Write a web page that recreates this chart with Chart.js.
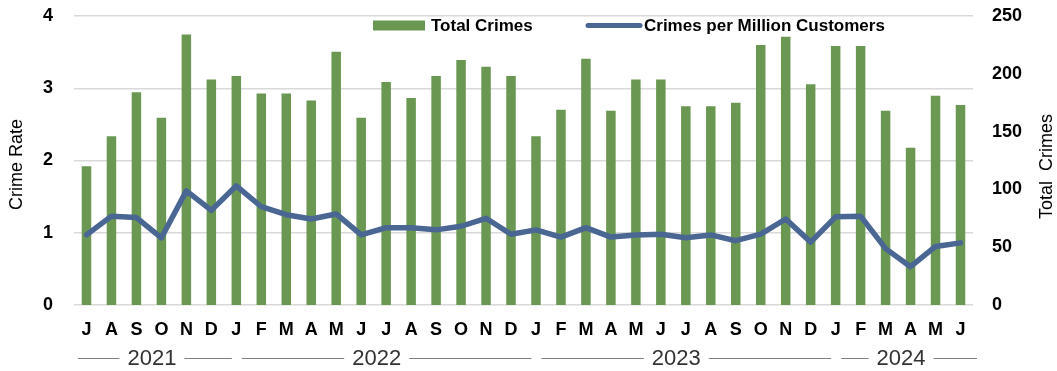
<!DOCTYPE html>
<html>
<head>
<meta charset="utf-8">
<title>Crimes per Million Customers</title>
<script src="https://cdn.jsdelivr.net/npm/chart.js@4.4.1/dist/chart.umd.min.js"></script>
<style>
  html, body { margin: 0; padding: 0; background: #ffffff; }
  #wrap { width: 1057px; height: 371px; position: relative; }
</style>
</head>
<body>
<div id="wrap"><canvas id="chart" width="1057" height="371"></canvas></div>
<script>
// Month initials, July 2021 through June 2024
const monthLabels = ['J','A','S','O','N','D',
  'J','F','M','A','M','J','J','A','S','O','N','D',
  'J','F','M','A','M','J','J','A','S','O','N','D',
  'J','F','M','A','M','J'];

// Year groups under the month labels
const years = ['2021', '2022', '2023', '2024'];
const monthsPerYear = [6, 12, 12, 6];

// Monthly total crimes (right axis)
const totalCrimes = [120,146,184,162,234,195,
  198,183,183,177,219,162,193,179,198,212,206,198,
  146,169,213,168,195,195,172,172,175,225,232,191,
  224,224,168,136,181,173];

// Crimes per million customers (left axis)
const crimeRate = [0.97,1.23,1.21,0.93,1.58,1.31,
  1.65,1.36,1.25,1.19,1.26,0.97,1.07,1.07,1.04,1.09,1.20,0.98,
  1.04,0.94,1.07,0.94,0.97,0.98,0.93,0.97,0.89,0.98,1.19,0.87,
  1.22,1.23,0.78,0.53,0.81,0.86];

// Axis ranges
const rateAxis = { min: 0, max: 4, step: 1 };
const crimesAxis = { min: 0, max: 250, step: 50 };

const seriesNames = { bars: 'Total Crimes', line: 'Crimes per Million Customers' };
const axisTitles = { left: 'Crime Rate', right: 'Total  Crimes' };

const GREEN = '#6a9752';
const BLUE = '#4a6794';
const FONT = "'Liberation Sans', Arial, Helvetica, sans-serif";

Chart.defaults.font.family = FONT;
Chart.defaults.color = '#000000';

// Legend drawn inside the top of the plot area
const legendInside = {
  id: 'legendInside',
  afterDraw(chart) {
    const ctx = chart.ctx;
    const cy = 25.5;
    ctx.save();
    ctx.font = 'bold 17px ' + FONT;
    ctx.textBaseline = 'middle';
    ctx.fillStyle = GREEN;
    ctx.fillRect(373, cy - 5, 52, 10);
    ctx.fillStyle = '#000';
    ctx.fillText(seriesNames.bars, 431, cy + 1);
    ctx.strokeStyle = BLUE;
    ctx.lineWidth = 5;
    ctx.lineCap = 'round';
    ctx.beginPath();
    ctx.moveTo(588, cy);
    ctx.lineTo(640, cy);
    ctx.stroke();
    ctx.fillText(seriesNames.line, 644, cy + 1);
    ctx.restore();
  }
};

// Rotated axis titles
const sideTitles = {
  id: 'sideTitles',
  afterDraw(chart) {
    const ctx = chart.ctx;
    const area = chart.chartArea;
    const midY = (area.top + area.bottom) / 2;
    ctx.save();
    ctx.font = '18px ' + FONT;
    ctx.fillStyle = '#000';
    ctx.textAlign = 'center';
    ctx.textBaseline = 'middle';
    ctx.save();
    ctx.translate(17, midY + 4);
    ctx.rotate(-Math.PI / 2);
    ctx.fillText(axisTitles.left, 0, 0);
    ctx.restore();
    ctx.save();
    ctx.translate(1047, midY + 6);
    ctx.rotate(-Math.PI / 2);
    ctx.fillText(axisTitles.right, 0, 0);
    ctx.restore();
    ctx.restore();
  }
};

// Year labels with rule segments under the month ticks
const yearGroups = {
  id: 'yearGroups',
  afterDraw(chart) {
    const ctx = chart.ctx;
    const xs = chart.scales.x;
    const half = (xs.getPixelForValue(1) - xs.getPixelForValue(0)) / 2;
    const y = 358;
    const last = years.length - 1;
    ctx.save();
    ctx.font = '22px ' + FONT;
    ctx.textAlign = 'center';
    ctx.textBaseline = 'middle';
    let start = 0;
    years.forEach((yr, i) => {
      const end = start + monthsPerYear[i] - 1;
      const left = xs.getPixelForValue(start) - half;
      const right = xs.getPixelForValue(end) + half;
      const x0 = left + (i === 0 ? 4 : 18);
      const x1 = right + (i === last ? 4 : 8);
      const cx = (left + right) / 2 + 3;
      const tw = ctx.measureText(yr).width;
      ctx.strokeStyle = '#808080';
      ctx.lineWidth = 1;
      ctx.beginPath();
      ctx.moveTo(x0, y + 0.5);
      ctx.lineTo(cx - tw / 2 - 8, y + 0.5);
      ctx.moveTo(cx + tw / 2 + 8, y + 0.5);
      ctx.lineTo(x1, y + 0.5);
      ctx.stroke();
      ctx.fillStyle = '#333333';
      ctx.fillText(yr, cx, y + 1);
      start = end + 1;
    });
    ctx.restore();
  }
};

const tickFont = { family: FONT, size: 18, weight: 'bold' };

// Vertical axes: fixed width, no extra top/bottom reservation for label padding
function fixVertical(width) {
  return function (scale) {
    scale.width = width;
    scale.paddingTop = 0;
    scale.paddingBottom = 0;
  };
}

new Chart(document.getElementById('chart'), {
  data: {
    labels: monthLabels,
    datasets: [
      {
        type: 'line',
        label: seriesNames.line,
        data: crimeRate,
        yAxisID: 'y',
        borderColor: BLUE,
        backgroundColor: BLUE,
        borderWidth: 5.5,
        borderJoinStyle: 'round',
        borderCapStyle: 'round',
        pointRadius: 0,
        tension: 0,
        order: 0
      },
      {
        type: 'bar',
        label: seriesNames.bars,
        data: totalCrimes,
        yAxisID: 'y1',
        backgroundColor: GREEN,
        borderWidth: 0,
        barPercentage: 0.38,
        categoryPercentage: 1.0,
        order: 1
      }
    ]
  },
  options: {
    responsive: false,
    animation: false,
    layout: { padding: { top: 16, left: 0, right: 0, bottom: 0 } },
    plugins: {
      legend: { display: false },
      tooltip: { enabled: false }
    },
    scales: {
      x: {
        grid: { display: false, drawTicks: false },
        border: { display: false },
        ticks: { font: tickFont, color: '#000', padding: 14, maxRotation: 0, autoSkip: false },
        afterFit(scale) { scale.height = 66; }
      },
      y: {
        position: 'left',
        min: rateAxis.min,
        max: rateAxis.max,
        ticks: { stepSize: rateAxis.step, font: tickFont, color: '#000', padding: 21 },
        grid: { color: '#d9d9d9', lineWidth: 1.5, drawTicks: false },
        border: { display: false },
        afterFit: fixVertical(74)
      },
      y1: {
        position: 'right',
        min: crimesAxis.min,
        max: crimesAxis.max,
        ticks: { stepSize: crimesAxis.step, font: tickFont, color: '#000', padding: 19 },
        grid: { display: false, drawTicks: false },
        border: { display: false },
        afterFit: fixVertical(84)
      }
    }
  },
  plugins: [legendInside, sideTitles, yearGroups]
});
</script>
</body>
</html>
